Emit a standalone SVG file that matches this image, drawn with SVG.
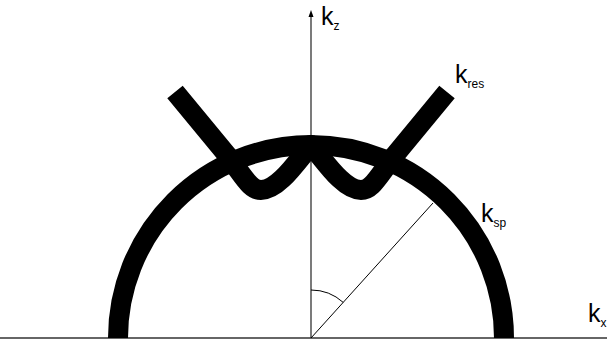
<svg xmlns="http://www.w3.org/2000/svg" width="607" height="342" viewBox="0 0 607 342">
<style>
.axis{stroke:#333;stroke-width:1.3;fill:none}
.thin{stroke:#000;stroke-width:1;fill:none}
.thick{stroke:#000;stroke-width:20;fill:none}
.lbl{font-family:"Liberation Sans",Arial,sans-serif;font-size:25px;fill:#000}
.sub{font-size:12px}
</style>
<defs>
<marker id="arr" markerWidth="6" markerHeight="8" refX="3" refY="0" orient="auto" markerUnits="userSpaceOnUse" viewBox="0 0 6 8" overflow="visible">
<path d="M-3,4 L0,-2 L3,4 Z" fill="#000"/>
</marker>
</defs>
<rect width="607" height="342" fill="#fff"/>
<g id="connectors">
<line class="axis" x1="0" y1="338" x2="607" y2="338"/>
<line class="axis" x1="311" y1="338" x2="311" y2="16"/>
<path d="M308.5,17 L311,10 L313.5,17 Z" fill="#000"/>
<line class="thin" x1="311" y1="338" x2="433" y2="203"/>
<path class="thin" d="M311,290 A48,48 0 0 1 343.2,302.4"/>
</g>
<g id="ksp-circle">
<path class="thick" d="M118,338 A193,193 0 0 1 504,338"/>
</g>
<g id="kres-curve">
<path class="thick" stroke-linejoin="round" d="M175,92 L227,155 C245,178 250,190 261,190 C278,190 296,163 311,145 C326,163 344,190 361,190 C372,190 377,178 395,155 L447,92"/>
</g>
<g id="labels">
<text class="lbl" x="321" y="25">k<tspan class="sub" dy="5">z</tspan></text>
<text class="lbl" x="455" y="83">k<tspan class="sub" dy="5">res</tspan></text>
<text class="lbl" x="481" y="222">k<tspan class="sub" dy="5">sp</tspan></text>
<text class="lbl" x="588" y="322">k<tspan class="sub" dy="5">x</tspan></text>
</g>
</svg>
